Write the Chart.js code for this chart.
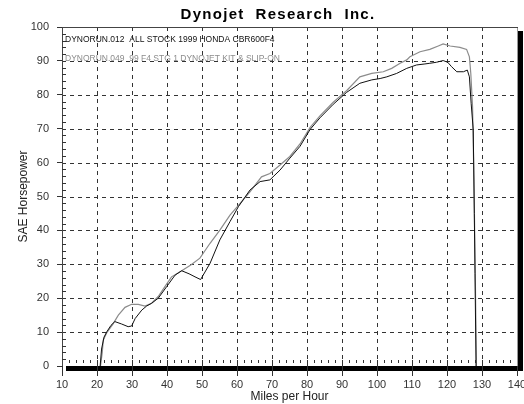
<!DOCTYPE html>
<html>
<head>
<meta charset="utf-8">
<script src="https://cdn.jsdelivr.net/npm/chart.js@4.4.0/dist/chart.umd.min.js"></script>
<style>
html, body { margin: 0; padding: 0; background: #fff; overflow: hidden; }
</style>
</head>
<body>
<canvas id="dyno-chart" width="540" height="404"></canvas>
<script>
// DYNORUN.012 - stock bike
var stockMph = [20.9, 21.3, 22.0, 22.8, 24.0, 25.1, 27.0, 28.9, 29.9, 30.9, 32.8, 34.2, 35.6, 37.5, 39.9, 42.3, 44.2, 46.3, 48.0, 49.6,
    52.3, 55.1, 58.0, 60.4, 63.7, 66.6, 69.4, 72.3, 75.1, 78.0, 80.9, 83.7, 87.5, 91.3, 95.1, 98.5, 100.9, 102.8, 105.6, 108.5,
    111.3, 113.7, 115.1, 117.0, 118.9, 120.2, 121.3, 122.8, 124.7, 125.8, 126.4, 126.9, 127.5, 127.8, 128.0, 128.3];
var stockHp = [0, 5, 8.5, 10.1, 12, 13.1, 12.4, 11.6, 11.8, 14, 16.5, 17.7, 18.5, 20, 23.4, 26.8, 28.1, 27.2, 26.3, 25.5,
    30.3, 37.2, 42.6, 47, 51.9, 54.4, 54.9, 57.8, 61.3, 64.8, 69.8, 73.2, 77.2, 80.7, 83.4, 84.4, 84.8, 85.3, 86.3, 87.8,
    88.8, 89.1, 89.3, 89.6, 90.1, 89.6, 88.3, 86.8, 86.8, 87.3, 85.3, 77.5, 69.6, 45, 27.3, 0];

// DYNORUN.049 - stage 1 kit + slip-on
var stg1Mph = [21.0, 21.5, 21.8, 22.8, 24.5, 26.1, 28.0, 29.9, 31.8, 33.7, 35.6, 37.5, 39.4, 41.3, 44.2, 46.8, 49.4,
    52.3, 55.1, 58.0, 60.9, 63.7, 67.0, 69.4, 72.3, 75.1, 78.0, 80.9, 83.7, 87.5, 91.3, 95.1, 98.5, 101.8, 104.2, 106.6,
    108.5, 109.4, 112.3, 115.1, 117.5, 118.9, 120.9, 123.7, 125.6, 126.4, 126.8, 127.3, 127.7, 128.1, 128.4];
var stg1Hp = [0, 4, 7.7, 9.8, 12.3, 15, 17.3, 18.2, 18.2, 17.7, 18.5, 20.5, 23.4, 26.3, 28.1, 29.8, 31.8,
    36.2, 40.1, 44.5, 48, 51.4, 55.8, 56.8, 59.3, 61.8, 65.5, 70.4, 73.8, 77.8, 81.2, 85.3, 86.3, 86.8, 87.8, 89.3,
    90.3, 91.2, 92.7, 93.4, 94.4, 95, 94.4, 94, 93.4, 91.2, 86.3, 76.5, 55, 25, 0];

var runLabels = ["DYNORUN.012  ALL STOCK 1999 HONDA CBR600F4", "DYNORUN.049  99 F4 STG 1 DYNOJET KIT & SLIP-ON"];
var runColors = ["#111111", "#8c8c8c"];

function toPoints(xs, ys) {
    return xs.map(function (x, i) { return { x: x, y: ys[i] }; });
}

// dashed grid, frame, drop shadow, minor ticks, run labels and title
var dynoFrame = {
    id: "dynoFrame",
    beforeDraw: function (chart) {
        var c = chart.ctx, a = chart.chartArea;
        c.save();
        c.fillStyle = "#fff";
        c.fillRect(0, 0, chart.width, chart.height);
        c.fillStyle = "#000";
        c.fillRect(a.right + 1, a.top + 4, 5, a.bottom - a.top + 1);
        c.fillRect(a.left + 4, a.bottom, a.right - a.left + 2, 5);
        c.restore();
    },
    beforeDatasetsDraw: function (chart) {
        var c = chart.ctx, a = chart.chartArea;
        var xs = chart.scales.x, ys = chart.scales.y;
        c.save();
        c.lineWidth = 1;

        // dashed grid on the major ticks
        c.strokeStyle = "#333";
        c.setLineDash([4, 4]);
        c.beginPath();
        xs.ticks.forEach(function (t) {
            if (t.value <= xs.min || t.value >= xs.max) return;
            var px = Math.round(xs.getPixelForValue(t.value)) + 0.5;
            c.moveTo(px, a.top);
            c.lineTo(px, a.bottom);
        });
        ys.ticks.forEach(function (t) {
            if (t.value <= ys.min || t.value >= ys.max) return;
            var py = Math.round(ys.getPixelForValue(t.value)) + 0.5;
            c.moveTo(a.left, py);
            c.lineTo(a.right, py);
        });
        c.stroke();
        c.setLineDash([]);

        c.strokeStyle = "#999";
        c.beginPath();
        c.moveTo(a.right + 0.5, a.top);
        c.lineTo(a.right + 0.5, a.bottom);
        c.stroke();
        c.strokeStyle = "#444";
        c.beginPath();
        c.moveTo(a.left + 0.5, a.top);
        c.lineTo(a.left + 0.5, a.bottom);
        c.moveTo(a.left, a.top + 0.5);
        c.lineTo(a.right + 1, a.top + 0.5);
        c.stroke();

        c.strokeStyle = "#333";
        c.beginPath();
        for (var m = 12; m < 140; m += 2) {
            var px = Math.round(xs.getPixelForValue(m)) + 0.5;
            c.moveTo(px, a.bottom - 6);
            c.lineTo(px, a.bottom - 3);
        }
        for (var h = 2; h < 100; h += 2) {
            if (h % 10 === 0) continue;
            var py = Math.round(ys.getPixelForValue(h)) + 0.5;
            c.moveTo(a.left, py);
            c.lineTo(a.left + 4, py);
        }
        c.stroke();

        c.font = "8.5px 'Liberation Sans', Arial, sans-serif";
        c.textBaseline = "middle";
        runLabels.forEach(function (t, i) {
            c.fillStyle = runColors[i];
            c.fillText(t, a.left + 3, a.top + 13 + i * 19);
        });

        c.fillStyle = "#000";
        c.font = "bold 15px 'Liberation Sans', Arial, sans-serif";
        c.textAlign = "center";
        c.letterSpacing = "1.3px";
        c.fillText("Dynojet  Research  Inc.", 278, 15);
        c.restore();
    }
};

var ctx = document.getElementById("dyno-chart").getContext("2d");
var dynoChart = new Chart(ctx, {
    type: "line",
    data: {
        datasets: [{
            label: runLabels[0],
            data: toPoints(stockMph, stockHp),
            borderColor: runColors[0],
            borderWidth: 1,
            pointRadius: 0,
            fill: false
        }, {
            label: runLabels[1],
            data: toPoints(stg1Mph, stg1Hp),
            borderColor: runColors[1],
            borderWidth: 1.2,
            pointRadius: 0,
            fill: false
        }]
    },
    options: {
        responsive: false,
        animation: false,
        layout: { padding: { top: 27, right: 23, bottom: 0, left: 0 } },
        plugins: {
            legend: { display: false },
            title: { display: false },
            tooltip: { enabled: false }
        },
        scales: {
            x: {
                type: "linear",
                min: 10,
                max: 140,
                afterFit: function (s) { s.height = 38; },
                ticks: {
                    stepSize: 10,
                    padding: 2,
                    color: "#333",
                    font: { family: "'Liberation Sans', Arial, sans-serif", size: 11 }
                },
                grid: {
                    drawOnChartArea: false,
                    tickColor: "#333",
                    tickLength: 10
                },
                border: { display: false },
                title: {
                    display: true,
                    text: "Miles per Hour",
                    color: "#222",
                    padding: { top: 0, bottom: 0 },
                    font: { family: "'Liberation Sans', Arial, sans-serif", size: 12 }
                }
            },
            y: {
                min: 0,
                max: 100,
                afterFit: function (s) { s.width = 62; },
                ticks: {
                    stepSize: 10,
                    padding: 8,
                    color: "#333",
                    font: { family: "'Liberation Sans', Arial, sans-serif", size: 11 }
                },
                grid: {
                    drawOnChartArea: false,
                    tickColor: "#333",
                    tickLength: 5
                },
                border: { display: false },
                title: {
                    display: true,
                    text: "SAE Horsepower",
                    color: "#222",
                    padding: { top: 16, bottom: 0 },
                    font: { family: "'Liberation Sans', Arial, sans-serif", size: 12 }
                }
            }
        }
    },
    plugins: [dynoFrame]
});
</script>
</body>
</html>
